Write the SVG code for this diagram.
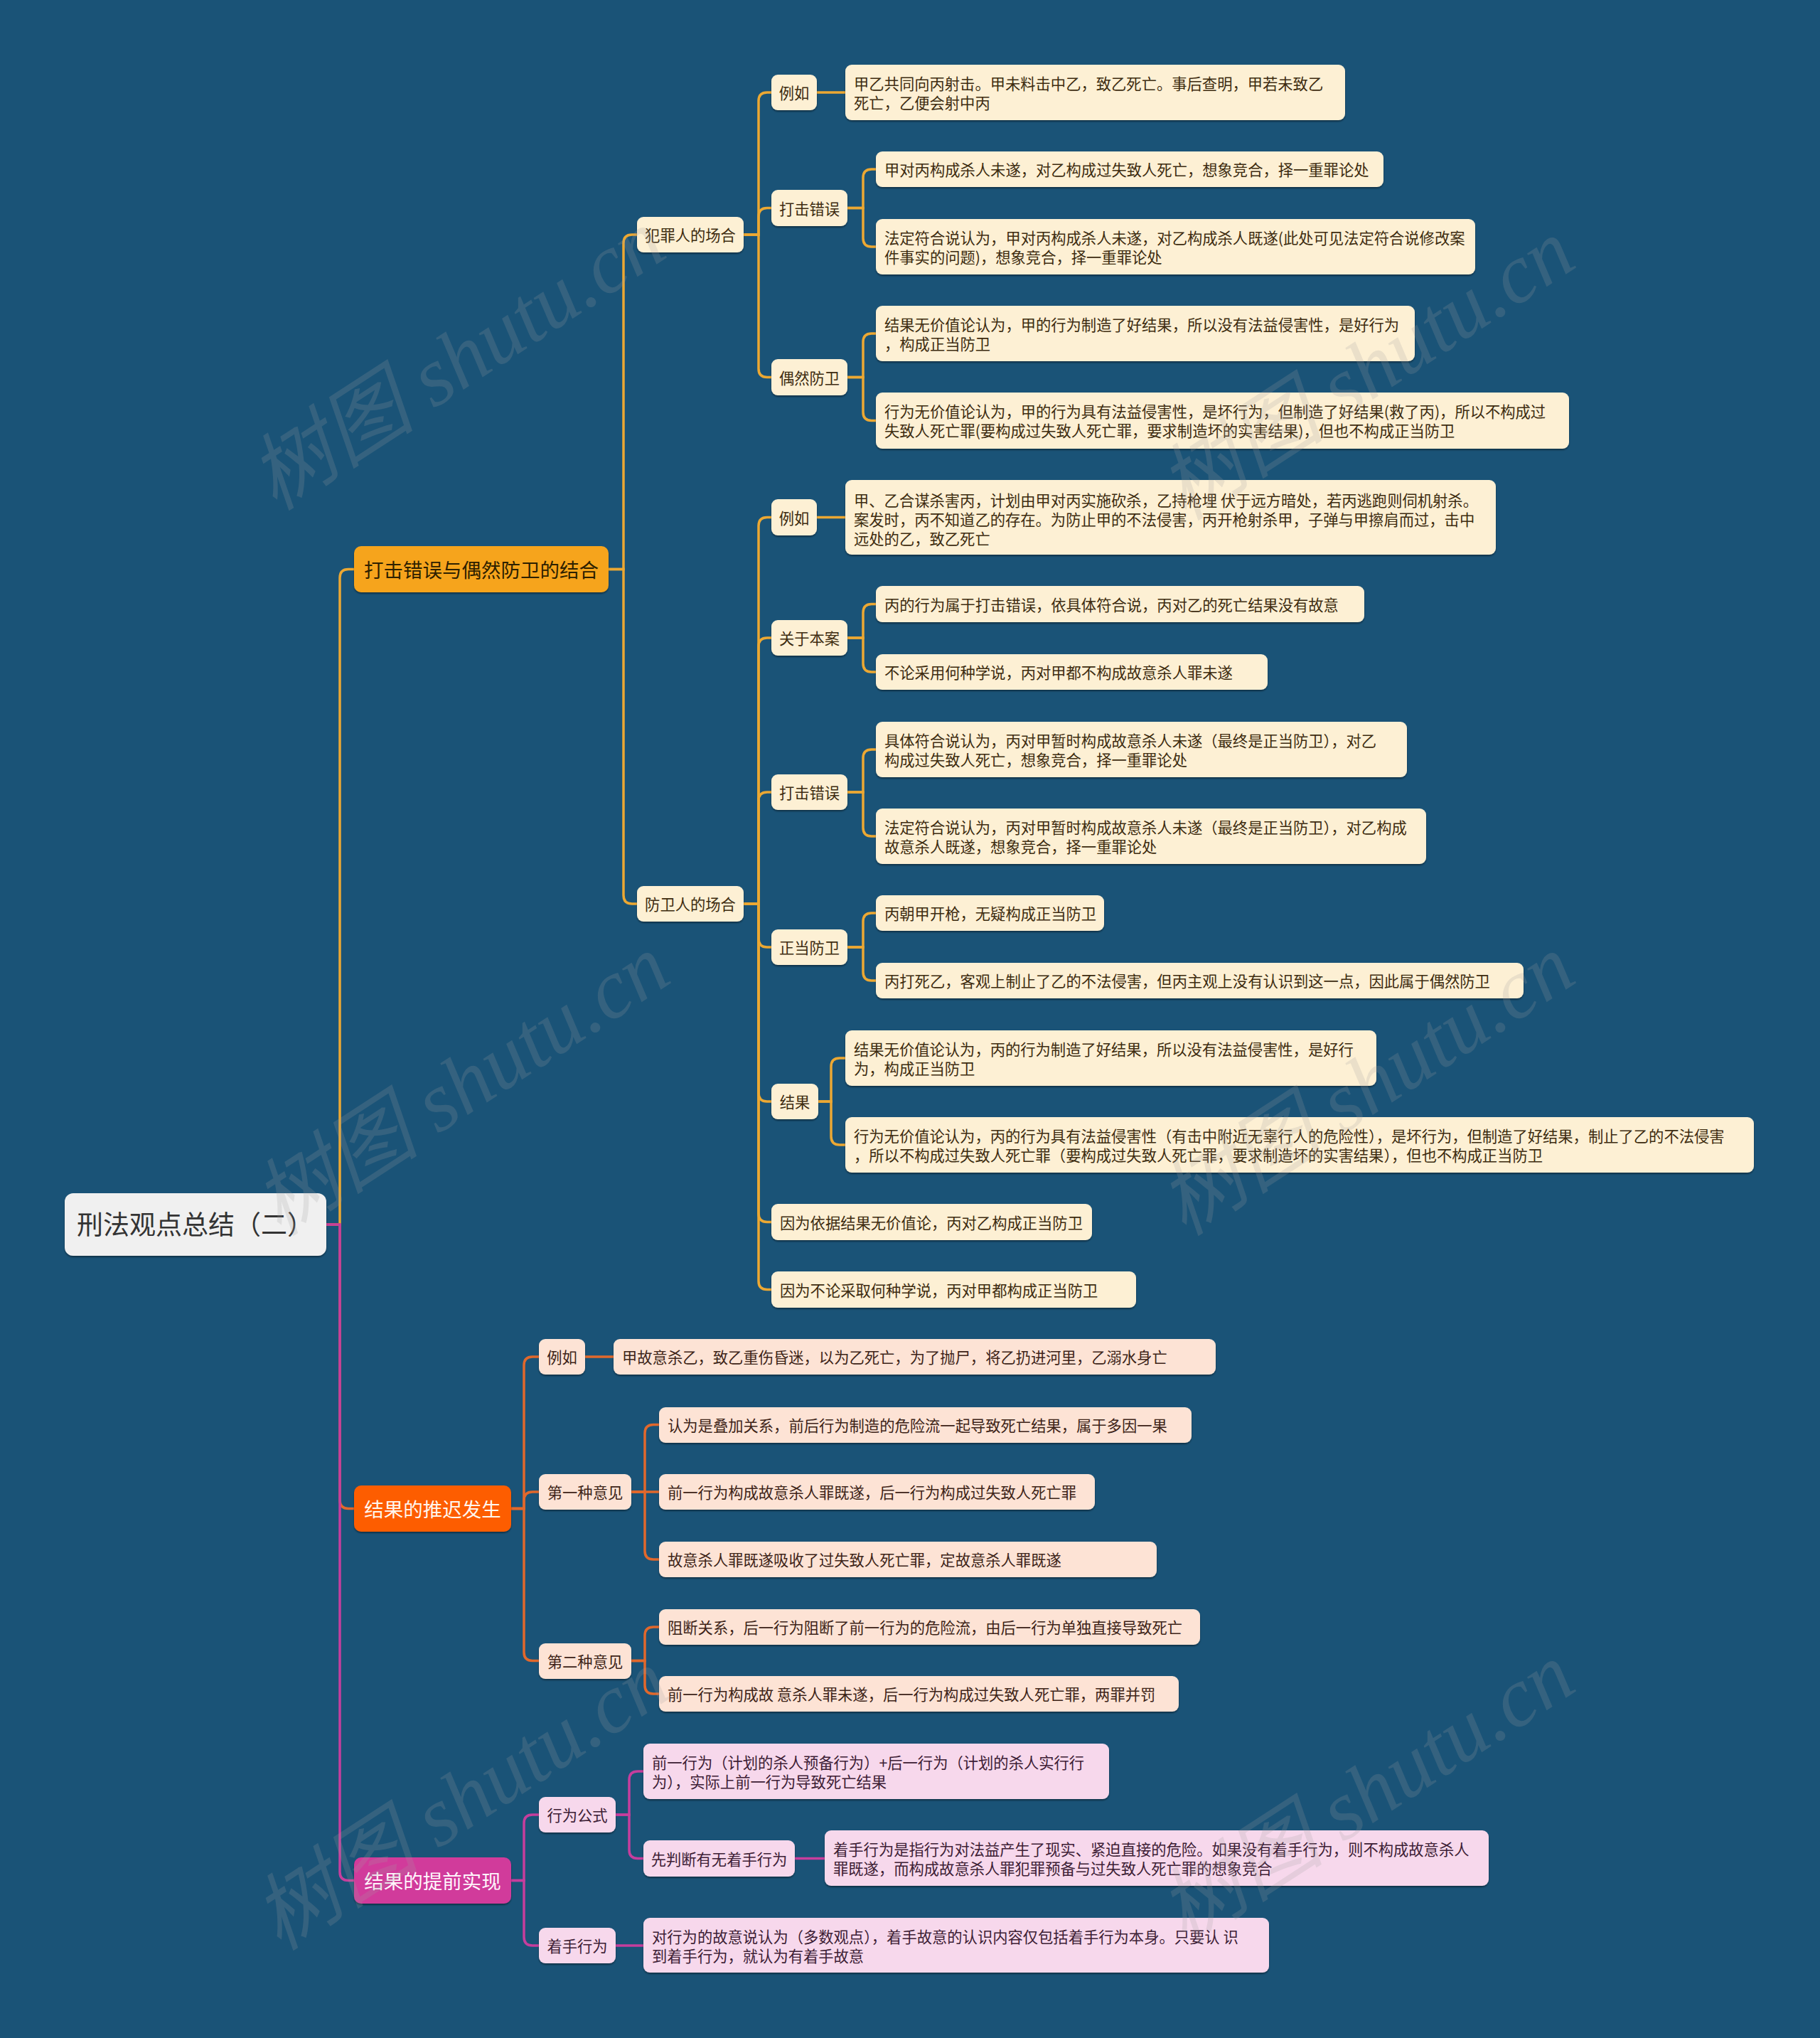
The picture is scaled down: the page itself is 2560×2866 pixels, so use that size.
<svg xmlns="http://www.w3.org/2000/svg" width="2560" height="2866" viewBox="0 0 2560 2866">
<defs>
<filter id="ds" x="-5%" y="-20%" width="110%" height="150%"><feDropShadow dx="0" dy="2" stdDeviation="1.2" flood-color="#000" flood-opacity="0.4"/></filter>
<style>
text{font-family:"Noto Sans CJK SC","Noto Sans",sans-serif;}
.n rect{filter:url(#ds);}
.c1{fill:#fdf0d4;}
.c2{fill:#fde3d5;}
.c3{fill:#f7d8ec;}
.t{font-size:21.3px;}
.t1{fill:#3d2c10;}
.t2{fill:#3d2418;}
.t3{fill:#3d2035;}
.m{text-anchor:middle;}
.main{font-size:27.5px;text-anchor:middle;}
.l1{fill:none;stroke:#eca833;stroke-width:3.5;}
.l2{fill:none;stroke:#e1682c;stroke-width:3.5;}
.l3{fill:none;stroke:#c63e9d;stroke-width:3.5;}
.wm{font-family:"Liberation Serif","Noto Sans CJK SC",serif;font-style:italic;font-size:118px;fill:#a0a0a0;opacity:0.2;text-anchor:middle;}
</style>
</defs>
<rect width="2560" height="2866" fill="#1a5377"/>

<g id="connectors">
<path class="l1" d="M459 1722 H478 V812.5 Q478 800.5 490 800.5 H498"/>
<path class="l2" d="M459 1722 H478 V2109.5 Q478 2121.5 490 2121.5 H498"/>
<path class="l3" d="M459 1722 H478 V2632.5 Q478 2644.5 490 2644.5 H498"/>

<path class="l1" d="M856 800.5 H877 V342 Q877 330 889 330 H896"/>
<path class="l1" d="M856 800.5 H877 V1259 Q877 1271 889 1271 H896"/>

<path class="l1" d="M1046 330 H1067 V142 Q1067 130 1079 130 H1085"/>
<path class="l1" d="M1046 330 H1067 V304.5 Q1067 292.5 1079 292.5 H1085"/>
<path class="l1" d="M1046 330 H1067 V518.5 Q1067 530.5 1079 530.5 H1085"/>
<path class="l1" d="M1149 130 H1189"/>
<path class="l1" d="M1192 292.5 H1214 V250 Q1214 238 1226 238 H1232"/>
<path class="l1" d="M1192 292.5 H1214 V335 Q1214 347 1226 347 H1232"/>
<path class="l1" d="M1192 530.5 H1214 V481 Q1214 469 1226 469 H1232"/>
<path class="l1" d="M1192 530.5 H1214 V579.5 Q1214 591.5 1226 591.5 H1232"/>

<path class="l1" d="M1046 1271 H1067 V739.5 Q1067 727.5 1079 727.5 H1085"/>
<path class="l1" d="M1046 1271 H1067 V909 Q1067 897 1079 897 H1085"/>
<path class="l1" d="M1046 1271 H1067 V1126 Q1067 1114 1079 1114 H1085"/>
<path class="l1" d="M1046 1271 H1067 V1320 Q1067 1332 1079 1332 H1085"/>
<path class="l1" d="M1046 1271 H1067 V1537 Q1067 1549 1079 1549 H1085"/>
<path class="l1" d="M1046 1271 H1067 V1706.5 Q1067 1718.5 1079 1718.5 H1085"/>
<path class="l1" d="M1046 1271 H1067 V1801.5 Q1067 1813.5 1079 1813.5 H1085"/>
<path class="l1" d="M1149 727.5 H1189"/>
<path class="l1" d="M1192 897 H1214 V861.5 Q1214 849.5 1226 849.5 H1232"/>
<path class="l1" d="M1192 897 H1214 V933 Q1214 945 1226 945 H1232"/>
<path class="l1" d="M1192 1114 H1214 V1066 Q1214 1054 1226 1054 H1232"/>
<path class="l1" d="M1192 1114 H1214 V1164 Q1214 1176 1226 1176 H1232"/>
<path class="l1" d="M1192 1332 H1214 V1296 Q1214 1284 1226 1284 H1232"/>
<path class="l1" d="M1192 1332 H1214 V1367 Q1214 1379 1226 1379 H1232"/>
<path class="l1" d="M1151 1549 H1169 V1500 Q1169 1488 1181 1488 H1189"/>
<path class="l1" d="M1151 1549 H1169 V1598 Q1169 1610 1181 1610 H1189"/>

<path class="l2" d="M719 2121.5 H737 V1920 Q737 1908 749 1908 H758"/>
<path class="l2" d="M719 2121.5 H737 V2110 Q737 2098 749 2098 H758"/>
<path class="l2" d="M719 2121.5 H737 V2323.5 Q737 2335.5 749 2335.5 H758"/>
<path class="l2" d="M823 1908 H863"/>
<path class="l2" d="M888 2098 H907 V2015.5 Q907 2003.5 919 2003.5 H927"/>
<path class="l2" d="M888 2098 H927"/>
<path class="l2" d="M888 2098 H907 V2181 Q907 2193 919 2193 H927"/>
<path class="l2" d="M888 2335.5 H907 V2300 Q907 2288 919 2288 H927"/>
<path class="l2" d="M888 2335.5 H907 V2370 Q907 2382 919 2382 H927"/>

<path class="l3" d="M719 2644.5 H737 V2564 Q737 2552 749 2552 H758"/>
<path class="l3" d="M719 2644.5 H737 V2724 Q737 2736 749 2736 H758"/>
<path class="l3" d="M866 2552 H885 V2503 Q885 2491 897 2491 H905"/>
<path class="l3" d="M866 2552 H885 V2601.5 Q885 2613.5 897 2613.5 H905"/>
<path class="l3" d="M1118 2613.5 H1160"/>
<path class="l3" d="M866 2736 H905"/>
</g>

<g id="root" class="n"><rect x="91" y="1678" width="368" height="88" rx="12" fill="#f0f0f0"/><text x="108" y="1736" font-size="37" fill="#333">刑法观点总结（二）</text></g>

<g id="b1" class="n"><rect x="498" y="768" width="358" height="65" rx="10" fill="#f6a41e"/><text class="main" x="677" y="812" fill="#2d2000">打击错误与偶然防卫的结合</text></g>
<g id="b2" class="n"><rect x="498" y="2089" width="221" height="65" rx="10" fill="#fd5d04"/><text class="main" x="608.5" y="2133" fill="#fff6ee">结果的推迟发生</text></g>
<g id="b3" class="n"><rect x="498" y="2612" width="221" height="65" rx="10" fill="#d13a9b"/><text class="main" x="608.5" y="2656" fill="#fff6fb">结果的提前实现</text></g>

<g id="fzr" class="n"><rect class="c1" x="896" y="305" width="150" height="50" rx="9"/><text class="t t1 m" x="971" y="339">犯罪人的场合</text></g>
<g id="fwr" class="n"><rect class="c1" x="896" y="1246" width="150" height="50" rx="9"/><text class="t t1 m" x="971" y="1280">防卫人的场合</text></g>

<g id="lr1" class="n"><rect class="c1" x="1085" y="105" width="64" height="50" rx="9"/><text class="t t1 m" x="1117" y="139">例如</text></g>
<g id="lr1a" class="n"><rect class="c1" x="1189" y="91" width="703" height="78" rx="9"/><text class="t t1" x="1201" y="126">甲乙共同向丙射击。甲未料击中乙，致乙死亡。事后查明，甲若未致乙</text><text class="t t1" x="1201" y="153">死亡，乙便会射中丙</text></g>

<g id="dj1" class="n"><rect class="c1" x="1085" y="267" width="107" height="51" rx="9"/><text class="t t1 m" x="1138.5" y="301.5">打击错误</text></g>
<g id="dj1a" class="n"><rect class="c1" x="1232" y="213" width="714" height="50" rx="9"/><text class="t t1" x="1244" y="247">甲对丙构成杀人未遂，对乙构成过失致人死亡，想象竞合，择一重罪论处</text></g>
<g id="dj1b" class="n"><rect class="c1" x="1232" y="308" width="843" height="78" rx="9"/><text class="t t1" x="1244" y="343">法定符合说认为，甲对丙构成杀人未遂，对乙构成杀人既遂(此处可见法定符合说修改案</text><text class="t t1" x="1244" y="370">件事实的问题)，想象竞合，择一重罪论处</text></g>

<g id="oz1" class="n"><rect class="c1" x="1085" y="505" width="107" height="51" rx="9"/><text class="t t1 m" x="1138.5" y="539.5">偶然防卫</text></g>
<g id="oz1a" class="n"><rect class="c1" x="1232" y="430" width="758" height="78" rx="9"/><text class="t t1" x="1244" y="465">结果无价值论认为，甲的行为制造了好结果，所以没有法益侵害性，是好行为</text><text class="t t1" x="1244" y="492">，构成正当防卫</text></g>
<g id="oz1b" class="n"><rect class="c1" x="1232" y="552" width="975" height="79" rx="9"/><text class="t t1" x="1244" y="587">行为无价值论认为，甲的行为具有法益侵害性，是坏行为，但制造了好结果(救了丙)，所以不构成过</text><text class="t t1" x="1244" y="614">失致人死亡罪(要构成过失致人死亡罪，要求制造坏的实害结果)，但也不构成正当防卫</text></g>

<g id="lr2" class="n"><rect class="c1" x="1085" y="702" width="64" height="51" rx="9"/><text class="t t1 m" x="1117" y="736.5">例如</text></g>
<g id="lr2a" class="n"><rect class="c1" x="1189" y="675" width="915" height="105" rx="9"/><text class="t t1" x="1201" y="712">甲、乙合谋杀害丙，计划由甲对丙实施砍杀，乙持枪埋 伏于远方暗处，若丙逃跑则伺机射杀。</text><text class="t t1" x="1201" y="739">案发时，丙不知道乙的存在。为防止甲的不法侵害，丙开枪射杀甲，子弹与甲擦肩而过，击中</text><text class="t t1" x="1201" y="766">远处的乙，致乙死亡</text></g>

<g id="gy" class="n"><rect class="c1" x="1085" y="872" width="107" height="50" rx="9"/><text class="t t1 m" x="1138.5" y="906">关于本案</text></g>
<g id="gya" class="n"><rect class="c1" x="1232" y="824" width="687" height="51" rx="9"/><text class="t t1" x="1244" y="858.5">丙的行为属于打击错误，依具体符合说，丙对乙的死亡结果没有故意</text></g>
<g id="gyb" class="n"><rect class="c1" x="1232" y="920" width="551" height="50" rx="9"/><text class="t t1" x="1244" y="954">不论采用何种学说，丙对甲都不构成故意杀人罪未遂</text></g>

<g id="dj2" class="n"><rect class="c1" x="1085" y="1089" width="107" height="50" rx="9"/><text class="t t1 m" x="1138.5" y="1123">打击错误</text></g>
<g id="dj2a" class="n"><rect class="c1" x="1232" y="1015" width="747" height="78" rx="9"/><text class="t t1" x="1244" y="1050">具体符合说认为，丙对甲暂时构成故意杀人未遂（最终是正当防卫），对乙</text><text class="t t1" x="1244" y="1077">构成过失致人死亡，想象竞合，择一重罪论处</text></g>
<g id="dj2b" class="n"><rect class="c1" x="1232" y="1137" width="774" height="78" rx="9"/><text class="t t1" x="1244" y="1172">法定符合说认为，丙对甲暂时构成故意杀人未遂（最终是正当防卫），对乙构成</text><text class="t t1" x="1244" y="1199">故意杀人既遂，想象竞合，择一重罪论处</text></g>

<g id="zd" class="n"><rect class="c1" x="1085" y="1307" width="107" height="50" rx="9"/><text class="t t1 m" x="1138.5" y="1341">正当防卫</text></g>
<g id="zda" class="n"><rect class="c1" x="1232" y="1259" width="321" height="50" rx="9"/><text class="t t1" x="1244" y="1293">丙朝甲开枪，无疑构成正当防卫</text></g>
<g id="zdb" class="n"><rect class="c1" x="1232" y="1354" width="911" height="50" rx="9"/><text class="t t1" x="1244" y="1388">丙打死乙，客观上制止了乙的不法侵害，但丙主观上没有认识到这一点，因此属于偶然防卫</text></g>

<g id="jg" class="n"><rect class="c1" x="1085" y="1524" width="66" height="50" rx="9"/><text class="t t1 m" x="1118" y="1558">结果</text></g>
<g id="jga" class="n"><rect class="c1" x="1189" y="1449" width="747" height="78" rx="9"/><text class="t t1" x="1201" y="1484">结果无价值论认为，丙的行为制造了好结果，所以没有法益侵害性，是好行</text><text class="t t1" x="1201" y="1511">为，构成正当防卫</text></g>
<g id="jgb" class="n"><rect class="c1" x="1189" y="1571" width="1278" height="78" rx="9"/><text class="t t1" x="1201" y="1606">行为无价值论认为，丙的行为具有法益侵害性（有击中附近无辜行人的危险性），是坏行为，但制造了好结果，制止了乙的不法侵害</text><text class="t t1" x="1201" y="1633">，所以不构成过失致人死亡罪（要构成过失致人死亡罪，要求制造坏的实害结果），但也不构成正当防卫</text></g>

<g id="yw1" class="n"><rect class="c1" x="1085" y="1693" width="451" height="51" rx="9"/><text class="t t1" x="1097" y="1727.5">因为依据结果无价值论，丙对乙构成正当防卫</text></g>
<g id="yw2" class="n"><rect class="c1" x="1085" y="1788" width="513" height="51" rx="9"/><text class="t t1" x="1097" y="1822.5">因为不论采取何种学说，丙对甲都构成正当防卫</text></g>

<g id="lr3" class="n"><rect class="c2" x="758" y="1883" width="65" height="50" rx="9"/><text class="t t2 m" x="790.5" y="1917">例如</text></g>
<g id="lr3a" class="n"><rect class="c2" x="863" y="1883" width="847" height="50" rx="9"/><text class="t t2" x="875" y="1917">甲故意杀乙，致乙重伤昏迷，以为乙死亡，为了抛尸，将乙扔进河里，乙溺水身亡</text></g>

<g id="y1" class="n"><rect class="c2" x="758" y="2073" width="130" height="50" rx="9"/><text class="t t2 m" x="823" y="2107">第一种意见</text></g>
<g id="y1a" class="n"><rect class="c2" x="927" y="1979" width="749" height="50" rx="9"/><text class="t t2" x="939" y="2013">认为是叠加关系，前后行为制造的危险流一起导致死亡结果，属于多因一果</text></g>
<g id="y1b" class="n"><rect class="c2" x="927" y="2073" width="613" height="50" rx="9"/><text class="t t2" x="939" y="2107">前一行为构成故意杀人罪既遂，后一行为构成过失致人死亡罪</text></g>
<g id="y1c" class="n"><rect class="c2" x="927" y="2168" width="700" height="50" rx="9"/><text class="t t2" x="939" y="2202">故意杀人罪既遂吸收了过失致人死亡罪，定故意杀人罪既遂</text></g>

<g id="y2" class="n"><rect class="c2" x="758" y="2311" width="130" height="50" rx="9"/><text class="t t2 m" x="823" y="2345">第二种意见</text></g>
<g id="y2a" class="n"><rect class="c2" x="927" y="2263" width="761" height="50" rx="9"/><text class="t t2" x="939" y="2297">阻断关系，后一行为阻断了前一行为的危险流，由后一行为单独直接导致死亡</text></g>
<g id="y2b" class="n"><rect class="c2" x="927" y="2357" width="731" height="50" rx="9"/><text class="t t2" x="939" y="2391">前一行为构成故 意杀人罪未遂，后一行为构成过失致人死亡罪，两罪并罚</text></g>

<g id="gs" class="n"><rect class="c3" x="758" y="2527" width="108" height="50" rx="9"/><text class="t t3 m" x="812" y="2561">行为公式</text></g>
<g id="gsa" class="n"><rect class="c3" x="905" y="2452" width="655" height="78" rx="9"/><text class="t t3" x="917" y="2487">前一行为（计划的杀人预备行为）+后一行为（计划的杀人实行行</text><text class="t t3" x="917" y="2514">为），实际上前一行为导致死亡结果</text></g>
<g id="pd" class="n"><rect class="c3" x="905" y="2588" width="213" height="51" rx="9"/><text class="t t3 m" x="1011.5" y="2622.5">先判断有无着手行为</text></g>
<g id="pda" class="n"><rect class="c3" x="1160" y="2574" width="934" height="78" rx="9"/><text class="t t3" x="1172" y="2609">着手行为是指行为对法益产生了现实、紧迫直接的危险。如果没有着手行为，则不构成故意杀人</text><text class="t t3" x="1172" y="2636">罪既遂，而构成故意杀人罪犯罪预备与过失致人死亡罪的想象竞合</text></g>
<g id="zs" class="n"><rect class="c3" x="758" y="2711" width="108" height="50" rx="9"/><text class="t t3 m" x="812" y="2745">着手行为</text></g>
<g id="zsa" class="n"><rect class="c3" x="905" y="2697" width="880" height="77" rx="9"/><text class="t t3" x="917" y="2732">对行为的故意说认为（多数观点），着手故意的认识内容仅包括着手行为本身。只要认 识</text><text class="t t3" x="917" y="2759">到着手行为，就认为有着手故意</text></g>

<g id="watermarks">
<text class="wm" transform="translate(643,506) rotate(-33)" y="40">树图 shutu.cn</text>
<text class="wm" transform="translate(1922,520) rotate(-33)" y="40">树图 shutu.cn</text>
<text class="wm" transform="translate(649,1526) rotate(-33)" y="40">树图 shutu.cn</text>
<text class="wm" transform="translate(1922,1526) rotate(-33)" y="40">树图 shutu.cn</text>
<text class="wm" transform="translate(649,2531) rotate(-33)" y="40">树图 shutu.cn</text>
<text class="wm" transform="translate(1922,2522) rotate(-33)" y="40">树图 shutu.cn</text>
</g>
</svg>
